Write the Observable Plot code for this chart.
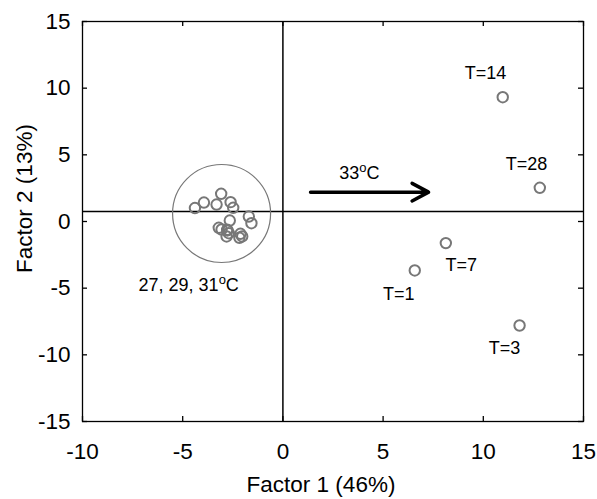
<!DOCTYPE html>
<html><head><meta charset="utf-8">
<script src="https://cdn.jsdelivr.net/npm/d3@7"></script>
<script src="https://cdn.jsdelivr.net/npm/@observablehq/plot@0.6"></script>
<style>body{margin:0;background:#fff;} #chart svg{display:block;}</style>
</head><body><div id="chart"></div>
<script>
// Axis ticks
const xTicks = [-10, -5, 0, 5, 10, 15];
const yTicks = [-15, -10, -5, 0, 5, 10, 15];

// 33 °C samples (sampling day labels)
const hotLabels = ["T=1", "T=3", "T=7", "T=14", "T=28"];
const hotX = [6.58, 11.81, 8.13, 10.97, 12.82];
const hotY = [-3.67, -7.8, -1.62, 9.32, 2.53];
const hotLabelX = [5.78, 11.06, 8.9, 10.11, 12.16];
const hotLabelY = [-5.42, -9.54, -3.3, 11.1, 4.33];

// 27, 29, 31 °C samples (cluster)
const clusterX = [-4.39, -3.94, -3.08, -3.31, -2.61, -2.48, -2.65, -1.70, -1.57, -3.20, -3.06, -2.78, -2.70, -2.81, -2.12, -2.03, -2.17, -2.77];
const clusterY = [1.01, 1.42, 2.08, 1.27, 1.45, 1.03, 0.07, 0.37, -0.13, -0.47, -0.60, -0.62, -0.88, -1.12, -0.92, -1.12, -1.22, -0.67];
const clusterCenter = [-3.06, 0.6];

// Reference cross lines (origin of factor axes)
const crossX = [0];
const crossY = [0.75];

// Arrow and annotations
const arrowX1 = [1.38], arrowX2 = [7.27], arrowY = [2.2];
const noteTexts = ["33^oC", "27, 29, 31^oC"];
const noteX = [3.82, -4.7];
const noteY = [3.6, -4.8];

const xLabel = "Factor 1 (46%)";
const yLabel = "Factor 2 (13%)";

const FONT = "'Liberation Sans', Arial, Helvetica, sans-serif";
const idx = a => a.map((_, i) => i);
const fmt = d => String(d);

const W = 597, H = 499, ML = 82, MR = 14, MT = 21, MB = 78;
const innerW = W - ML - MR, innerH = H - MT - MB, TICK = 5;

const plot = Plot.plot({
  width: W, height: H,
  marginLeft: ML, marginRight: MR, marginTop: MT, marginBottom: MB,
  x: {domain: [-10, 15]},
  y: {domain: [-15, 15]},
  style: {fontFamily: FONT, fontSize: "22.5px", color: "#000", background: "#fff"},
  marks: [
    Plot.ruleX(crossX, {x: d => d, stroke: "#000", strokeWidth: 1.5}),
    Plot.ruleY(crossY, {y: d => d, stroke: "#000", strokeWidth: 1.5}),
    Plot.axisX(xTicks, {anchor: "bottom", tickSize: 0, tickPadding: 22, fontSize: 22.5, tickFormat: fmt, label: null}),
    Plot.axisY(yTicks, {anchor: "left", tickSize: 0, tickPadding: 12, fontSize: 22.5, tickFormat: fmt, label: null}),
    // inward tick marks on all four sides
    Plot.ruleX(xTicks, {x: d => d, insetTop: innerH - TICK, stroke: "#000", strokeWidth: 1.3}),
    Plot.ruleX(xTicks, {x: d => d, insetBottom: innerH - TICK, stroke: "#000", strokeWidth: 1.3}),
    Plot.ruleY(yTicks, {y: d => d, insetRight: innerW - TICK, stroke: "#000", strokeWidth: 1.3}),
    Plot.ruleY(yTicks, {y: d => d, insetLeft: innerW - TICK, stroke: "#000", strokeWidth: 1.3}),
    Plot.frame({stroke: "#000", strokeWidth: 1.3}),
    Plot.dot([clusterCenter], {x: d => d[0], y: d => d[1], r: 49, stroke: "#777", strokeWidth: 1.2}),
    Plot.dot(idx(clusterX), {x: i => clusterX[i], y: i => clusterY[i], r: 5.2, stroke: "#777", strokeWidth: 2}),
    Plot.dot(idx(hotX), {x: i => hotX[i], y: i => hotY[i], r: 5.2, stroke: "#777", strokeWidth: 2}),
    Plot.text(idx(hotLabels), {x: i => hotLabelX[i], y: i => hotLabelY[i], text: i => hotLabels[i], fontSize: 18, fill: "#000"}),
    Plot.arrow(idx(arrowX1), {x1: i => arrowX1[i], x2: i => arrowX2[i], y1: i => arrowY[i], y2: i => arrowY[i], stroke: "#000", strokeWidth: 3.5, headLength: 8, headAngle: 56}),
    Plot.text(idx(noteTexts), {x: i => noteX[i], y: i => noteY[i], text: i => noteTexts[i], fontSize: 18, fill: "#000"}),
    Plot.text([xLabel], {frameAnchor: "bottom", textAnchor: "middle", lineAnchor: "middle", dx: -12, dy: 63, fontSize: 22.5, fill: "#000"}),
    Plot.text([yLabel], {frameAnchor: "left", textAnchor: "middle", lineAnchor: "middle", dx: -58, dy: -23, rotate: -90, fontSize: 22.5, fill: "#000"})
  ]
});

// Render superscript "o" in degree labels
d3.select(plot).selectAll("text").each(function () {
  const t = this.textContent;
  if (t.includes("^")) {
    const [pre, rest] = t.split("^");
    const el = d3.select(this);
    el.text(null);
    el.append("tspan").text(pre);
    el.append("tspan").attr("dy", -7).attr("font-size", 13).text(rest[0]);
    el.append("tspan").attr("dy", 7).text(rest.slice(1));
  }
});

document.getElementById("chart").appendChild(plot);
</script>
</body></html>
